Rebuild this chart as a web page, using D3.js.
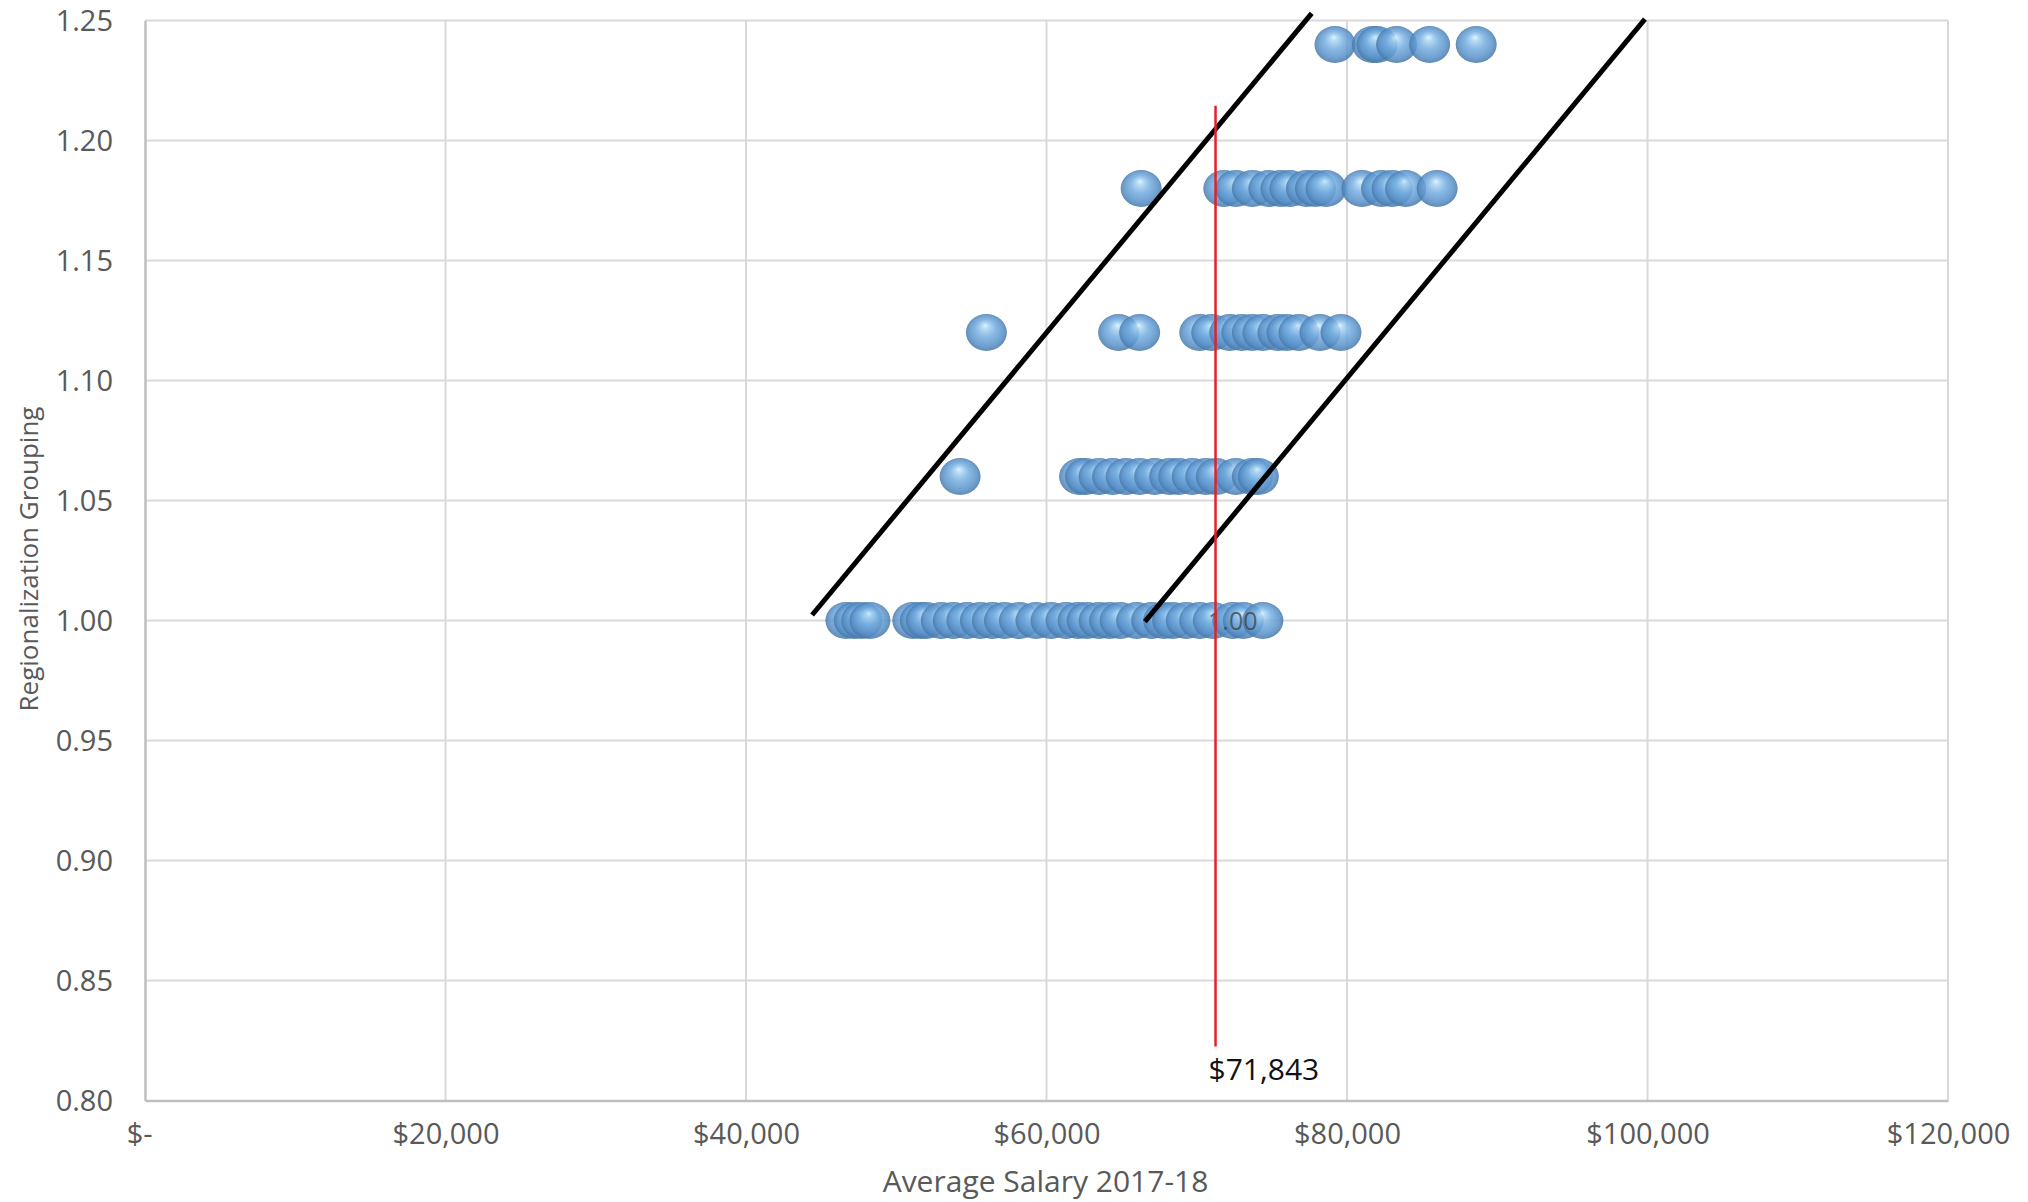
<!DOCTYPE html>
<html>
<head>
<meta charset="utf-8">
<script src="https://cdn.jsdelivr.net/npm/d3@7/dist/d3.min.js"></script>
<style>
  html, body { margin: 0; padding: 0; background: #fff; }
  text { font-family: "Open Sans", "DejaVu Sans", sans-serif; }
</style>
</head>
<body>
<div id="chart"></div>
<script>
// salary of each district, grouped by its regionalization value
var groupValues = [1.00, 1.06, 1.12, 1.18, 1.24];
var salaries100 = [46650, 47200, 47700, 48250, 51100, 51600, 52000, 53000, 53800, 54700,
                   55600, 56400, 57200, 58200, 59300, 60300, 61300, 62100, 62700, 63500,
                   64200, 64900, 66000, 67000, 67800, 68400, 69300, 70200, 71100, 72400,
                   73100, 74400];
var salaries106 = [54250, 62200, 62600, 63500, 64400, 65300, 66200, 67200, 68200, 68800,
                   69700, 70600, 71300, 72600, 73700, 74100];
var salaries112 = [56000, 64800, 66200, 70200, 71000, 72200, 73000, 73700, 74400, 75400,
                   76000, 76800, 78200, 79600];
var salaries118 = [66300, 71800, 72600, 73700, 74800, 75600, 76200, 77300, 77900, 78600,
                   81000, 82300, 83000, 83900, 86000];
var salaries124 = [79200, 81700, 82000, 83300, 85500, 88600];

var xTicks = [0, 20000, 40000, 60000, 80000, 100000, 120000];
var yTicks = [0.80, 0.85, 0.90, 0.95, 1.00, 1.05, 1.10, 1.15, 1.20, 1.25];

// hand drawn band lines (salary, grouping)
var bandStartX = [44400, 66550];
var bandStartY = [1.0023, 0.9995];
var bandEndX = [77650, 99830];
var bandEndY = [1.253, 1.2506];

// average salary marker
var avgLineX = 71250;
var avgLineY = [0.8225, 1.2145];
var avgLabel = '$71,843';

// single data label
var dataLabelX = 72400;
var dataLabelY = 1.00;
var dataLabelText = '1.00';

var width = 2028;
var height = 1202;
var margin = { top: 20.5, right: 80, bottom: 101.5, left: 145 };
var plotW = width - margin.left - margin.right;
var plotH = height - margin.top - margin.bottom;

var svg = d3.select('#chart')
    .append('svg')
    .attr('width', width)
    .attr('height', height);

var defs = svg.append('defs');
var grad = defs.append('radialGradient')
    .attr('id', 'ball')
    .attr('cx', '50%').attr('cy', '50%').attr('r', '52%')
    .attr('fx', '47%').attr('fy', '30%');
[['0%', '#dcf1fd'], ['16%', '#a9d4f3'], ['45%', '#75addf'], ['80%', '#578fc7'], ['100%', '#44729f']]
    .forEach(function (s) {
        grad.append('stop').attr('offset', s[0]).attr('stop-color', s[1]);
    });

var x = d3.scaleLinear().domain([0, 120000]).range([0, plotW]);
var y = d3.scaleLinear().domain([0.80, 1.25]).range([plotH, 0]);

var g = svg.append('g')
    .attr('transform', 'translate(' + margin.left + ',' + margin.top + ')');

// gridlines
g.append('g')
    .selectAll('line')
    .data(yTicks.slice(1))
    .enter().append('line')
    .attr('x1', 0).attr('x2', plotW)
    .attr('y1', d => y(d)).attr('y2', d => y(d))
    .attr('stroke', '#d9d9d9').attr('stroke-width', 2);

g.append('g')
    .selectAll('line')
    .data(xTicks.slice(1))
    .enter().append('line')
    .attr('x1', d => x(d)).attr('x2', d => x(d))
    .attr('y1', 0).attr('y2', plotH)
    .attr('stroke', '#d9d9d9').attr('stroke-width', 2);

// axes
var xAxis = d3.axisBottom(x)
    .tickValues(xTicks)
    .tickSize(0)
    .tickPadding(23)
    .tickFormat(d => d === 0 ? '$-' : '$' + d3.format(',')(d));

var yAxis = d3.axisLeft(y)
    .tickValues(yTicks)
    .tickSize(0)
    .tickPadding(32)
    .tickFormat(d3.format('.2f'));

var gx = g.append('g')
    .attr('transform', 'translate(0,' + plotH + ')')
    .call(xAxis);
var gy = g.append('g').call(yAxis);

[gx, gy].forEach(function (a) {
    a.select('.domain').attr('stroke', '#bfbfbf').attr('stroke-width', 2.5);
    a.selectAll('text')
        .attr('fill', '#595959')
        .style('font-size', '29px')
        .style('font-family', '"Open Sans", sans-serif');
});
gy.selectAll('text').attr('dy', '0.36em');
gx.selectAll('text').filter(d => d === 0).attr('dx', '-0.2em');

// bubbles
var rows = [salaries100, salaries106, salaries112, salaries118, salaries124];
var points = [];
rows.forEach(function (row, i) {
    row.forEach(function (s) {
        points.push({ salary: s, group: groupValues[i] });
    });
});

g.append('g')
    .selectAll('ellipse')
    .data(points)
    .enter().append('ellipse')
    .attr('cx', d => x(d.salary))
    .attr('cy', d => y(d.group))
    .attr('rx', 20.5)
    .attr('ry', 18.5)
    .attr('fill', 'url(#ball)')
    .attr('fill-opacity', 0.85);

// data label
g.append('text')
    .attr('x', x(dataLabelX))
    .attr('y', y(dataLabelY))
    .attr('dy', '0.36em')
    .attr('text-anchor', 'middle')
    .attr('fill', '#404040')
    .attr('fill-opacity', 0.75)
    .style('font-size', '25px')
    .text(dataLabelText);

// band lines
g.append('g')
    .selectAll('line')
    .data(bandStartX)
    .enter().append('line')
    .attr('x1', (d, i) => x(bandStartX[i]))
    .attr('y1', (d, i) => y(bandStartY[i]))
    .attr('x2', (d, i) => x(bandEndX[i]))
    .attr('y2', (d, i) => y(bandEndY[i]))
    .attr('stroke', '#000')
    .attr('stroke-width', 5);

// average line
g.append('line')
    .attr('x1', x(avgLineX)).attr('x2', x(avgLineX))
    .attr('y1', y(avgLineY[0])).attr('y2', y(avgLineY[1]))
    .attr('stroke', '#e3202a')
    .attr('stroke-width', 2.5);

g.append('text')
    .attr('x', x(avgLineX) - 7)
    .attr('y', y(avgLineY[0]) + 33)
    .attr('fill', '#111')
    .style('font-size', '30px')
    .text(avgLabel);

// axis titles
svg.append('text')
    .attr('x', margin.left + plotW / 2 - 1)
    .attr('y', 1192)
    .attr('text-anchor', 'middle')
    .attr('fill', '#595959')
    .style('font-size', '30px')
    .text('Average Salary 2017-18');

svg.append('text')
    .attr('transform', 'translate(38,' + 559 + ') rotate(-90)')
    .attr('text-anchor', 'middle')
    .attr('fill', '#595959')
    .style('font-size', '26px')
    .text('Regionalization Grouping');
</script>
</body>
</html>
